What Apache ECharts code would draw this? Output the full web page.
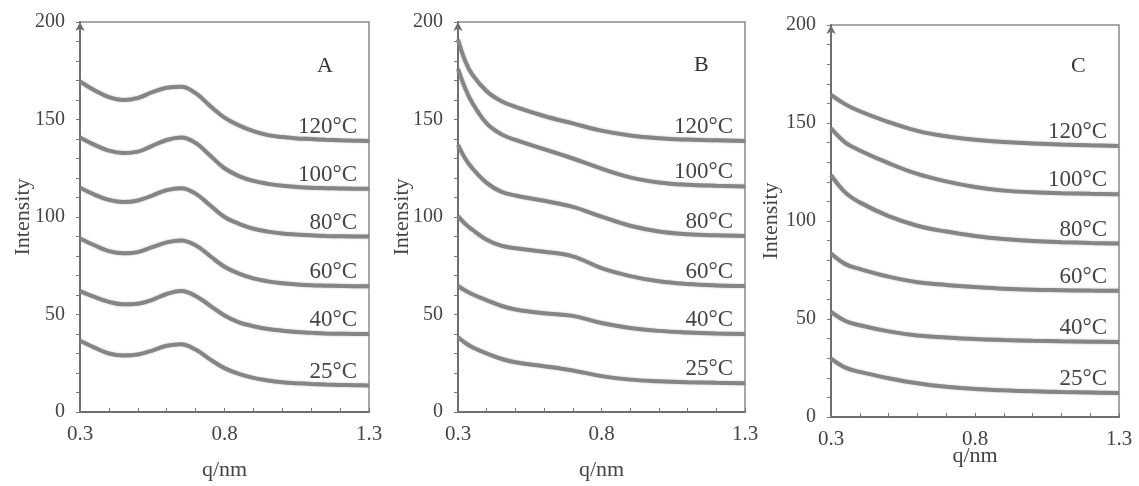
<!DOCTYPE html>
<html>
<head>
<meta charset="utf-8">
<script src="https://cdn.jsdelivr.net/npm/echarts@6/dist/echarts.min.js"></script>
<style>
html,body{margin:0;padding:0;background:#fff;}
#chart{width:1139px;height:486px;}
</style>
</head>
<body>
<div id="chart"></div>
<script>
// ---- data ----
const seriesNames = ['25°C', '40°C', '60°C', '80°C', '100°C', '120°C'];
const panelLetters = ['A', 'B', 'C'];
const xTickLabels = [0.3, 0.8, 1.3];
const yTickLabels = [0, 50, 100, 150, 200];

const qA = [0.3,0.35,0.4,0.45,0.5,0.55,0.6,0.65,0.7,0.75,0.8,0.85,0.9,0.95,1.0,1.05,1.1,1.15,1.2,1.25,1.3];
const A_25  = [36.5,33,30,29,29.5,31.5,34,34.8,32,27,22.5,19.5,17.5,16.2,15.3,14.8,14.4,14.1,13.9,13.7,13.6];
const A_40  = [62,59,56.5,55.2,55.5,57.5,60.5,62,59.5,54.5,49.5,46,44,42.6,41.7,41,40.6,40.3,40.1,40,40];
const A_60  = [89,85.5,82.5,81.4,82,84.5,87,88,85.5,80,74.5,71,68.5,67,66,65.4,65,64.8,64.6,64.5,64.5];
const A_80  = [115,111.5,108.8,107.7,108.5,111,113.8,114.8,112,106,100,96.5,94,92.5,91.5,91,90.6,90.3,90.1,90,90];
const A_100 = [140.8,137,134,132.8,133.5,136.5,139.5,140.8,138,131.5,125,121,118.5,117,116,115.4,115,114.8,114.6,114.5,114.5];
const A_120 = [169.5,165,161.5,160,161,164,166.3,166.8,163.5,157,151,147,144,142,141,140.3,140,139.6,139.3,139.1,139];

const qB = [0.3,0.325,0.35,0.4,0.45,0.5,0.6,0.7,0.8,0.9,1.0,1.1,1.2,1.3];
const B_25  = [38.3,35.5,33.2,30,27.3,25.5,23.5,21.3,18.4,16.6,15.8,15.3,15,14.8];
const B_40  = [64.6,62.3,60.4,57.3,54.5,52.6,50.6,49.3,45.6,43.1,41.6,40.8,40.3,40];
const B_60  = [100.5,96.5,93.5,88.3,85.3,84,82.2,79.8,73.8,69.7,67,65.6,64.9,64.6];
const B_80  = [137,130,125,117.5,113,111,108.3,105.2,100.2,95.5,92.6,91.2,90.6,90.3];
const B_100 = [176,166,158.5,148,142.5,139.5,134.8,130,124.8,120.3,117.7,116.5,116,115.7];
const B_120 = [191,180,173,164.5,159.5,156.5,151.8,148,144.3,141.8,140.4,139.7,139.3,139];

const qC = [0.3,0.35,0.4,0.5,0.6,0.7,0.8,0.9,1.0,1.1,1.2,1.3];
const C_25  = [29.8,25.2,23,19.8,17.2,15.4,14.3,13.6,13.1,12.7,12.5,12.3];
const C_40  = [53.6,49,46.8,43.7,41.6,40.6,39.8,39.3,38.9,38.6,38.4,38.3];
const C_60  = [83.4,78,75.5,71.6,68.8,67.4,66.3,65.4,64.9,64.7,64.5,64.4];
const C_80  = [123.4,114.5,109.5,102.5,97.6,94.6,92.4,90.8,89.8,89.2,88.8,88.5];
const C_100 = [147.3,140,136,129.5,124,120.2,117.3,115.5,114.7,114.2,113.9,113.7];
const C_120 = [164.3,159.5,156,150.5,146,143.2,141.5,140.3,139.6,139,138.6,138.3];

const panels = [
  {q: qA, vals: [A_25, A_40, A_60, A_80, A_100, A_120]},
  {q: qB, vals: [B_25, B_40, B_60, B_80, B_100, B_120]},
  {q: qC, vals: [C_25, C_40, C_60, C_80, C_100, C_120]}
];

// ---- layout ----
const FONT = '"Liberation Serif", "DejaVu Serif", serif';
const TXT = '#444';
const grids = [
  {left: 80, top: 22, width: 289, height: 393},
  {left: 458, top: 22, width: 287, height: 393},
  {left: 831, top: 25, width: 288, height: 392}
];
const xNameGap = [47, 47, 28];
const yNameGap = [46, 45, 49];
const letterPos = [[312, 50], [689, 49], [1066, 50]];

const near = (v, arr) => arr.some(t => Math.abs(t - v) < 1e-6);

const option = {
  animation: false,
  backgroundColor: '#ffffff',
  title: panelLetters.map((L, i) => ({
    text: L, left: letterPos[i][0], top: letterPos[i][1],
    textStyle: {fontFamily: FONT, fontSize: 22, fontWeight: 'normal', color: '#333'}
  })),
  grid: grids.map(g => Object.assign({show: true, borderColor: '#8a8a8a', borderWidth: 1.5, backgroundColor: 'transparent'}, g)),
  xAxis: grids.map((g, i) => ({
    gridIndex: i, type: 'value', min: 0.3, max: 1.3, interval: 0.1,
    name: 'q/nm', nameLocation: 'middle', nameGap: xNameGap[i], nameMoveOverlap: false,
    nameTextStyle: {fontFamily: FONT, fontSize: 22, color: TXT},
    axisLine: {show: true, lineStyle: {color: '#6f6f6f', width: 2}},
    axisTick: {show: true, length: 4, inside: true, lineStyle: {color: '#777'}},
    splitLine: {show: false},
    axisLabel: {
      fontFamily: FONT, fontSize: 21, color: TXT, margin: 12,
      formatter: v => near(v, xTickLabels) ? (Math.round(v * 10) / 10).toFixed(1) : ''
    }
  })),
  yAxis: grids.map((g, i) => ({
    gridIndex: i, type: 'value', min: 0, max: 200, interval: 10,
    name: 'Intensity', nameLocation: 'middle', nameGap: yNameGap[i], nameRotate: 90, nameMoveOverlap: false,
    nameTextStyle: {fontFamily: FONT, fontSize: 22, color: TXT},
    axisLine: {show: true, symbol: ['none', 'arrow'], symbolSize: [7, 9], lineStyle: {color: '#6f6f6f', width: 2}},
    axisTick: {show: true, length: 4, lineStyle: {color: '#777'}},
    splitLine: {show: false},
    axisLabel: {
      fontFamily: FONT, fontSize: 20, color: TXT, margin: 15,
      formatter: v => near(v, yTickLabels) ? String(Math.round(v)) : ''
    }
  })),
  series: []
};

panels.forEach((p, pi) => {
  p.vals.forEach((arr, si) => {
    option.series.push({
      type: 'line', name: seriesNames[si],
      xAxisIndex: pi, yAxisIndex: pi,
      data: p.q.map((q, k) => [q, arr[k]]),
      smooth: 0.4, showSymbol: false, symbol: 'none',
      lineStyle: {color: '#858585', width: 4, shadowColor: 'rgba(120,120,120,0.5)', shadowBlur: 2},
      endLabel: {
        show: true, formatter: '{a}', align: 'right', verticalAlign: 'middle',
        distance: 0, offset: [-12, -14],
        fontFamily: FONT, fontSize: 23, color: '#444'
      },
      z: 3
    });
  });
});

const chart = echarts.init(document.getElementById('chart'), null, {renderer: 'canvas'});
chart.setOption(option);
</script>
</body>
</html>
